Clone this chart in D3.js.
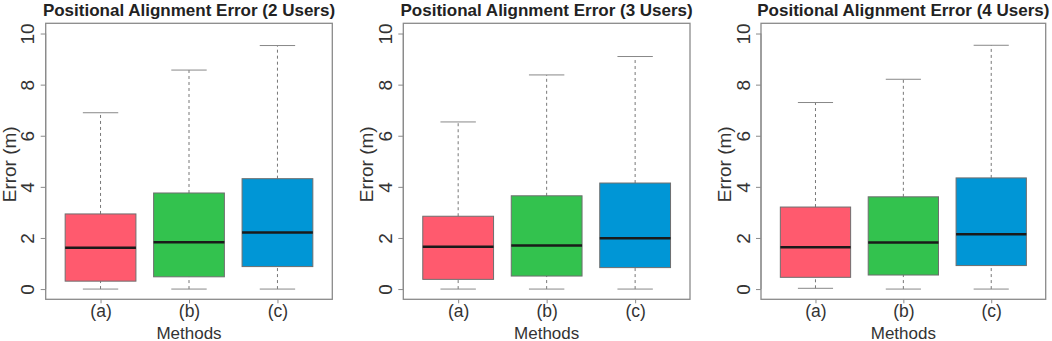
<!DOCTYPE html>
<html>
<head>
<meta charset="utf-8">
<script src="https://cdn.jsdelivr.net/npm/d3@7"></script>
<style>
  body { margin: 0; background: #fff; }
  svg { display: block; font-family: "Liberation Sans", Arial, sans-serif; }
</style>
</head>
<body>
<script>
// data, one entry per panel, one value per method
const methods = ["(a)", "(b)", "(c)"];
const panelTitles = ["Positional Alignment Error (2 Users)",
                     "Positional Alignment Error (3 Users)",
                     "Positional Alignment Error (4 Users)"];
const yTicks = [0, 2, 4, 6, 8, 10];
const colors = ["#ff5a6e", "#33c24e", "#0096d6"];

const whiskerLow  = [[0, 0, 0],          [0, 0, 0],          [0.03, 0, 0]];
const q1          = [[0.31, 0.48, 0.88], [0.38, 0.51, 0.84], [0.46, 0.55, 0.92]];
const median      = [[1.62, 1.83, 2.21], [1.66, 1.71, 1.99], [1.64, 1.82, 2.15]];
const q3          = [[2.94, 3.76, 4.32], [2.85, 3.65, 4.15], [3.21, 3.61, 4.35]];
const whiskerHigh = [[6.90, 8.57, 9.53], [6.54, 8.38, 9.10], [7.30, 8.21, 9.54]];

const W = 1052, H = 341;
const frames = [
  {left: 45.7, right: 332.3},
  {left: 403.3, right: 690},
  {left: 761, right: 1045.7}
];
const plotTop = 23.3, plotBottom = 299.3;

const svg = d3.select("body").append("svg")
   .attr("width", W)
   .attr("height", H);

panelTitles.forEach((title, p) => {
  const f = frames[p];
  const g = svg.append("g");

  // R style: 4% padding on both axes
  const x = d3.scaleLinear()
     .domain([0.38, 3.62])
     .range([f.left, f.right]);
  const y = d3.scaleLinear()
     .domain([-0.4, 10.4])
     .range([plotBottom, plotTop]);
  const unit = x(1) - x(0);

  // frame
  g.append("rect")
     .attr("x", f.left)
     .attr("y", plotTop)
     .attr("width", f.right - f.left)
     .attr("height", plotBottom - plotTop)
     .style("fill", "none")
     .style("stroke", "#8a8a8a")
     .style("stroke-width", 1.3);

  // y axis
  const yAxis = g.append("g")
     .attr("transform", "translate(" + f.left + ",0)")
     .call(d3.axisLeft(y).tickValues(yTicks).tickSize(5));
  yAxis.select(".domain").attr("d", "M0," + y(0) + "V" + y(10)).style("stroke", "#8a8a8a");
  yAxis.selectAll(".tick line").style("stroke", "#8a8a8a");
  yAxis.selectAll(".tick text")
     .attr("transform", "rotate(-90)")
     .attr("x", 0)
     .attr("y", -11.5)
     .attr("dy", 0)
     .style("text-anchor", "middle")
     .style("font-size", "19px")
     .style("fill", "#333");

  // x axis
  const xAxis = g.append("g")
     .attr("transform", "translate(0," + plotBottom + ")")
     .call(d3.axisBottom(x).tickValues([1, 2, 3]).tickFormat((d, i) => methods[i]).tickSize(4));
  xAxis.select(".domain").remove();
  xAxis.selectAll(".tick line").style("stroke", "#8a8a8a");
  xAxis.selectAll(".tick text")
     .attr("y", 18)
     .attr("dy", 0)
     .style("font-size", "17.5px")
     .style("fill", "#333");

  const boxes = methods.map((m, i) => ({
    pos: i + 1,
    lo: whiskerLow[p][i], q1: q1[p][i], med: median[p][i],
    q3: q3[p][i], hi: whiskerHigh[p][i], color: colors[i]
  }));

  const b = g.selectAll(".box")
     .data(boxes)
     .enter()
     .append("g")
     .attr("class", "box");

  // dashed whiskers
  b.append("line")
     .attr("x1", d => x(d.pos)).attr("x2", d => x(d.pos))
     .attr("y1", d => y(d.q3)).attr("y2", d => y(d.hi))
     .style("stroke", "#777").style("stroke-dasharray", "3,3");
  b.append("line")
     .attr("x1", d => x(d.pos)).attr("x2", d => x(d.pos))
     .attr("y1", d => y(d.lo)).attr("y2", d => y(d.q1))
     .style("stroke", "#777").style("stroke-dasharray", "3,3");

  // whisker caps
  b.append("line")
     .attr("x1", d => x(d.pos - 0.2)).attr("x2", d => x(d.pos + 0.2))
     .attr("y1", d => y(d.hi)).attr("y2", d => y(d.hi))
     .style("stroke", "#888");
  b.append("line")
     .attr("x1", d => x(d.pos - 0.2)).attr("x2", d => x(d.pos + 0.2))
     .attr("y1", d => y(d.lo)).attr("y2", d => y(d.lo))
     .style("stroke", "#888");

  // boxes
  b.append("rect")
     .attr("x", d => x(d.pos - 0.4))
     .attr("y", d => y(d.q3))
     .attr("width", 0.8 * unit)
     .attr("height", d => y(d.q1) - y(d.q3))
     .style("fill", d => d.color)
     .style("stroke", "#6e6e6e")
     .style("stroke-width", 1);

  // medians
  b.append("line")
     .attr("x1", d => x(d.pos - 0.4)).attr("x2", d => x(d.pos + 0.4))
     .attr("y1", d => y(d.med)).attr("y2", d => y(d.med))
     .style("stroke", "#1a1a1a").style("stroke-width", 2.5);

  // title
  g.append("text")
     .attr("x", (f.left + f.right) / 2)
     .attr("y", 16)
     .style("text-anchor", "middle")
     .style("font-weight", "bold")
     .style("font-size", "17px")
     .style("fill", "#222")
     .text(title);

  // y axis title
  g.append("text")
     .attr("transform", "rotate(-90)")
     .attr("x", -(plotTop + plotBottom) / 2 - 3)
     .attr("y", f.left - 30)
     .style("text-anchor", "middle")
     .style("font-size", "19px")
     .style("fill", "#333")
     .text("Error (m)");

  // x axis title
  g.append("text")
     .attr("x", (f.left + f.right) / 2)
     .attr("y", 338.5)
     .style("text-anchor", "middle")
     .style("font-size", "17px")
     .style("fill", "#333")
     .text("Methods");
});
</script>
</body>
</html>
